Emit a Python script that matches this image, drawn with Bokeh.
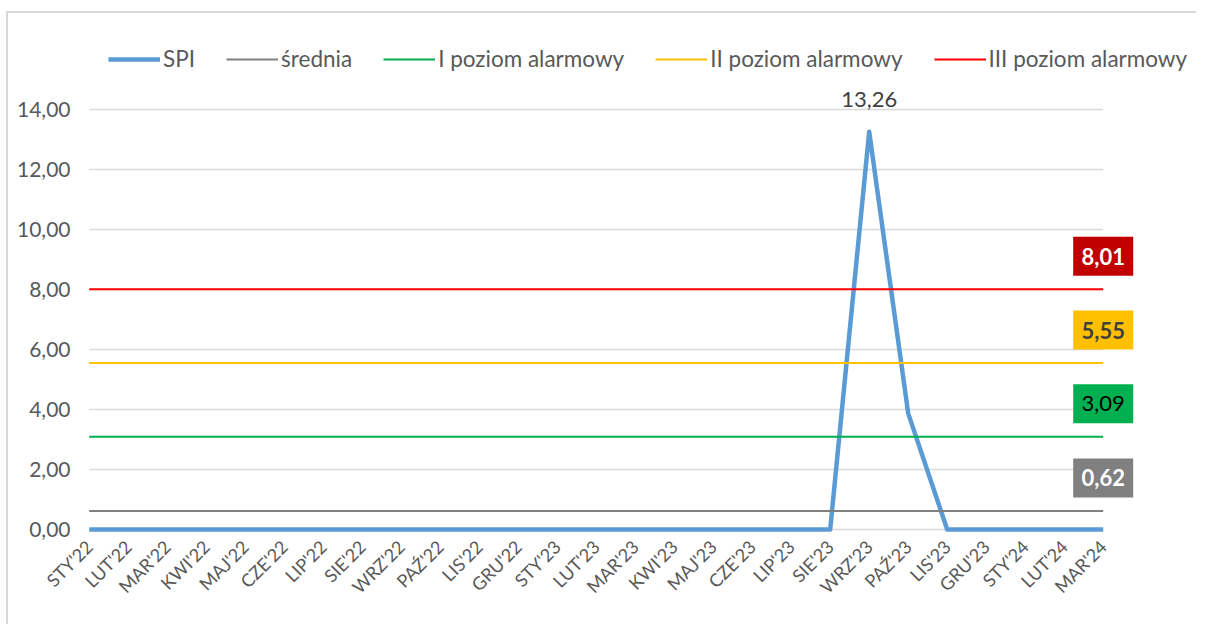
import math
from bokeh.plotting import figure
from bokeh.models import Range1d, FixedTicker, Legend, LegendItem
from bokeh.core.properties import value
from bokeh.embed import file_html
from bokeh.resources import INLINE

# ---------------- data ----------------
months = ["STY'22", "LUT'22", "MAR'22", "KWI'22", "MAJ'22", "CZE'22", "LIP'22",
          "SIE'22", "WRZ'22", "PAŹ'22", "LIS'22", "GRU'22",
          "STY'23", "LUT'23", "MAR'23", "KWI'23", "MAJ'23", "CZE'23", "LIP'23",
          "SIE'23", "WRZ'23", "PAŹ'23", "LIS'23", "GRU'23",
          "STY'24", "LUT'24", "MAR'24"]
spi = [0, 0, 0, 0, 0, 0, 0, 0, 0, 0, 0, 0,
       0, 0, 0, 0, 0, 0, 0, 0, 13.26, 3.87, 0, 0,
       0, 0, 0]
srednia = 0.62
level_1 = 3.09
level_2 = 5.55
level_3 = 8.01
y_ticks = [0, 2, 4, 6, 8, 10, 12, 14]
y_tick_labels = ["0,00", "2,00", "4,00", "6,00", "8,00", "10,00", "12,00", "14,00"]
series_names = ["SPI", "średnia", "I poziom alarmowy", "II poziom alarmowy", "III poziom alarmowy"]


def fmt(v):
    return f"{v:.2f}".replace(".", ",")


# ---------------- layout ----------------
W, H = 1190, 613
PX_X, PX_Y = 39.0, 30.0
MB_LEFT, MB_RIGHT, MB_TOP = 69, 10, 28
ZERO_FROM_TOP = 488.0      # px from frame top to the 0 line
BELOW_ZERO = 4.0           # px of frame below the 0 line
frame_h = ZERO_FROM_TOP + BELOW_ZERO
MB_BOTTOM = int(round(H - MB_TOP - frame_h))
X_START = -0.3
frame_w = W - MB_LEFT - MB_RIGHT
x_end = X_START + frame_w / PX_X
y_top = ZERO_FROM_TOP / PX_Y
y_bottom = -BELOW_ZERO / PX_Y

FONT = "Lato"
TXT = "#595959"

p = figure(width=W, height=H, output_backend="svg", toolbar_location=None,
           x_range=Range1d(X_START, x_end), y_range=Range1d(y_bottom, y_top),
           min_border_left=MB_LEFT, min_border_right=MB_RIGHT,
           min_border_top=MB_TOP, min_border_bottom=MB_BOTTOM)
p.margin = (11, 0, 0, 6)
p.styles = {"border-top": "2px solid #d9d9d9", "border-left": "2px solid #d9d9d9"}
p.outline_line_color = None
p.background_fill_color = "white"
p.border_fill_color = "white"
p.xgrid.visible = False
p.ygrid.visible = False

xs = list(range(len(months)))

# axes
p.xaxis.ticker = FixedTicker(ticks=xs)
p.xaxis.major_label_overrides = {i: m for i, m in enumerate(months)}
p.xaxis.major_label_orientation = math.pi / 4
p.xaxis.major_label_text_font = FONT
p.xaxis.major_label_text_font_size = "18px"
p.xaxis.major_label_text_color = TXT
p.xaxis.major_label_standoff = 4
p.yaxis.ticker = FixedTicker(ticks=y_ticks)
p.yaxis.major_label_overrides = {t: l for t, l in zip(y_ticks, y_tick_labels)}
p.yaxis.major_label_text_font = FONT
p.yaxis.major_label_text_font_size = "21px"
p.yaxis.major_label_text_color = TXT
p.yaxis.major_label_standoff = 1
for ax in (p.xaxis, p.yaxis):
    ax.axis_line_color = None
    ax.major_tick_line_color = None
    ax.minor_tick_line_color = None

# gridlines
p.segment(x0=[xs[0]] * len(y_ticks), x1=[xs[-1]] * len(y_ticks), y0=y_ticks, y1=y_ticks,
          line_color="#d9d9d9", line_width=1.5)

# series
levels = [srednia, level_1, level_2, level_3]
level_colors = ["#808080", "#00B050", "#FFC000", "#FF0000"]
r_spi = p.line(xs, spi, line_color="#5B9BD5", line_width=4.5, line_join="round")
level_renderers = []
for v, c in zip(levels, level_colors):
    level_renderers.append(p.line([xs[0], xs[-1]], [v, v], line_color=c, line_width=2))

# peak label
imax = max(range(len(spi)), key=lambda i: spi[i])
p.text(x=[xs[imax]], y=[spi[imax]], text=[fmt(spi[imax])], y_offset=-32,
       text_font=value(FONT), text_font_size="22px", text_color="#404040",
       text_align="center", text_baseline="middle")

# level value boxes
box_bg = ["#808080", "#00B050", "#FFC000", "#C00000"]
box_fg = ["#FFFFFF", "#000000", "#404040", "#FFFFFF"]
box_style = ["bold", "normal", "bold", "bold"]
off = 33.0 / PX_Y
for v, bg, fg, st in zip(levels, box_bg, box_fg, box_style):
    p.rect(x=[xs[-1]], y=[v + off], width=60, height=39, width_units="screen",
           height_units="screen", fill_color=bg, line_color=None)
    p.text(x=[xs[-1]], y=[v + off], text=[fmt(v)], text_font=value(FONT),
           text_font_size="22px", text_font_style=st, text_color=fg,
           text_align="center", text_baseline="middle")

# legend
frame_bottom_to_legend = ZERO_FROM_TOP + BELOW_ZERO - (60 + 12 - 40 - 1)
items = [LegendItem(label=n, renderers=[r]) for n, r in zip(series_names, [r_spi] + level_renderers)]
legend = Legend(items=items, orientation="horizontal", location=(31, frame_bottom_to_legend),
                padding=0, margin=0, spacing=31, glyph_width=52, glyph_height=24,
                label_height=24, label_standoff=3, border_line_color=None,
                background_fill_alpha=0, label_text_font=FONT,
                label_text_font_size="22.5px", label_text_color=TXT)
p.add_layout(legend, "center")

open("out.html", "w").write(file_html(p, INLINE))
